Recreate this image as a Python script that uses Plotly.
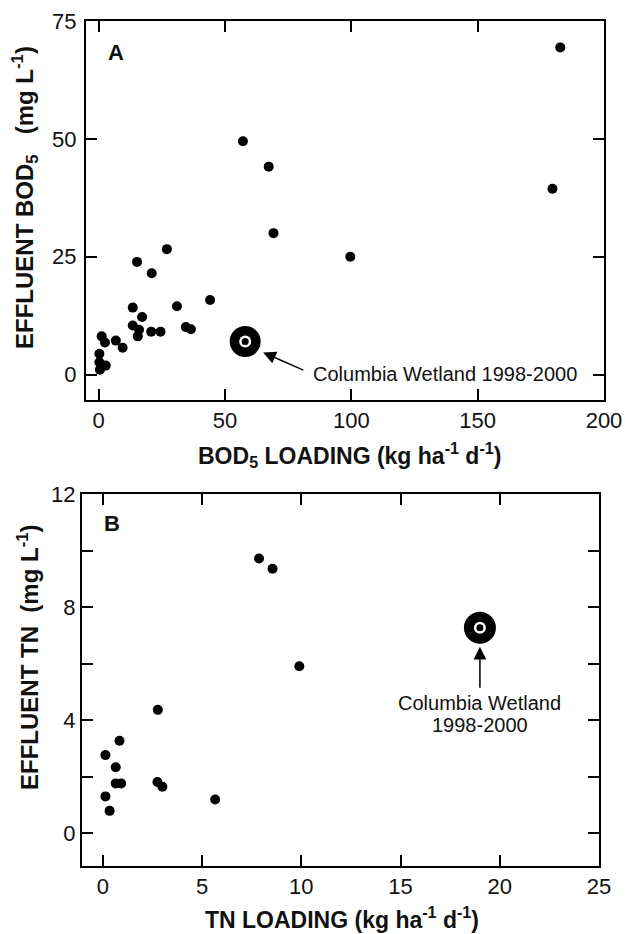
import plotly.graph_objects as go

# ---------------- data ----------------
bod_loading = [182.7, 179.6, 57.1, 67.3, 69.2, 99.6, 27.0, 15.2, 21.0, 44.1,
               31.0, 13.5, 17.2, 13.5, 16.0, 15.5, 20.8, 24.5, 34.5, 36.5,
               1.2, 2.5, 6.8, 9.5, 0.3, 0.3, 0.5, 2.8]
bod_effluent = [69.4, 39.4, 49.5, 44.1, 30.0, 25.0, 26.6, 23.9, 21.5, 15.8,
                14.5, 14.2, 12.2, 10.4, 9.5, 8.1, 9.1, 9.1, 10.1, 9.6,
                8.1, 6.8, 7.2, 5.7, 4.4, 2.6, 1.0, 1.9]
bod_columbia = [58.0]
bod_columbia_eff = [7.0]

tn_loading = [7.87, 8.55, 9.90, 2.77, 0.84, 0.13, 0.65, 0.65, 0.92, 2.75,
              3.0, 5.66, 0.13, 0.34]
tn_effluent = [9.72, 9.36, 5.91, 4.37, 3.28, 2.77, 2.34, 1.77, 1.77, 1.82,
               1.65, 1.20, 1.31, 0.80]
tn_columbia = [19.0]
tn_columbia_eff = [7.27]

a_xticks = [0, 50, 100, 150, 200]
a_yticks = [0, 25, 50, 75]
b_xticks = [0, 5, 10, 15, 20, 25]
b_yticks = [0, 2, 4, 6, 8, 10, 12]
b_yticktext = ["0", "", "4", "", "8", "", "12"]

W, H = 625, 934
FONT = "Liberation Sans, Arial, sans-serif"


def px(x):
    return x / W


def py(y):
    return 1 - y / H


fig = go.Figure()

# panel A
fig.add_trace(go.Scatter(x=bod_loading, y=bod_effluent, mode="markers",
                         marker=dict(color="black", size=10), xaxis="x", yaxis="y"))
for s, c in [(31, "black"), (12, "white"), (7, "black")]:
    fig.add_trace(go.Scatter(x=bod_columbia, y=bod_columbia_eff, mode="markers",
                             marker=dict(color=c, size=s), xaxis="x", yaxis="y"))
# panel B
fig.add_trace(go.Scatter(x=tn_loading, y=tn_effluent, mode="markers",
                         marker=dict(color="black", size=10), xaxis="x2", yaxis="y2"))
for s, c in [(32, "black"), (12, "white"), (7, "black")]:
    fig.add_trace(go.Scatter(x=tn_columbia, y=tn_columbia_eff, mode="markers",
                             marker=dict(color=c, size=s), xaxis="x2", yaxis="y2"))

axis_common = dict(ticks="inside", ticklen=11, tickwidth=2, tickcolor="black",
                   showline=True, linewidth=2, linecolor="black", mirror="allticks",
                   showgrid=False, zeroline=False, automargin=False,
                   tickfont=dict(family=FONT, size=22, color="#111"))

fig.update_layout(
    width=W, height=H, margin=dict(l=0, r=0, t=0, b=0, autoexpand=False),
    paper_bgcolor="white", plot_bgcolor="white", showlegend=False,
    xaxis=dict(domain=[px(86), px(604)], range=[-5, 200], tickvals=a_xticks,
               anchor="y", ticklabelstandoff=0, **axis_common),
    yaxis=dict(domain=[py(400), py(21)], range=[-5.4, 75], tickvals=a_yticks,
               anchor="x", ticklabelstandoff=3, **axis_common),
    xaxis2=dict(domain=[px(82), px(599)], range=[-1.05, 25], tickvals=b_xticks,
                anchor="y2", ticklabelstandoff=0, **axis_common),
    yaxis2=dict(domain=[py(866), py(494)], range=[-1.15, 12], tickvals=b_yticks,
                ticktext=b_yticktext, anchor="x2", ticklabelstandoff=0, **axis_common),
)

ann = []
# axis titles
ann.append(dict(text="<b>BOD<sub>5</sub> LOADING (kg ha<sup>-1</sup> d<sup>-1</sup>)</b>",
                x=px(349), y=py(455), xref="paper", yref="paper", showarrow=False,
                xanchor="center", yanchor="middle", font=dict(family=FONT, size=23, color="#111")))
ann.append(dict(text="<b>TN LOADING (kg ha<sup>-1</sup> d<sup>-1</sup>)</b>",
                x=px(342), y=py(918), xref="paper", yref="paper", showarrow=False,
                xanchor="center", yanchor="middle", font=dict(family=FONT, size=23, color="#111")))
ann.append(dict(text="<b>EFFLUENT BOD<sub>5</sub>&nbsp;&nbsp;&nbsp;(mg L<sup>-1</sup>)</b>",
                x=px(25), y=py(198), xref="paper", yref="paper", showarrow=False,
                textangle=-90, xanchor="center", yanchor="middle",
                font=dict(family=FONT, size=24, color="#111")))
ann.append(dict(text="<b>EFFLUENT TN&nbsp;&nbsp;(mg L<sup>-1</sup>)</b>",
                x=px(28), y=py(657), xref="paper", yref="paper", showarrow=False,
                textangle=-90, xanchor="center", yanchor="middle",
                font=dict(family=FONT, size=24, color="#111")))
# panel letters
ann.append(dict(text="<b>A</b>", x=px(116), y=py(53), xref="paper", yref="paper",
                xanchor="center", yanchor="middle",
                showarrow=False, font=dict(family=FONT, size=22, color="#111")))
ann.append(dict(text="<b>B</b>", x=px(112), y=py(523), xref="paper", yref="paper",
                xanchor="center", yanchor="middle",
                showarrow=False, font=dict(family=FONT, size=22, color="#111")))
# Columbia labels and arrows
ann.append(dict(text="Columbia Wetland 1998-2000", x=84, y=0.2, xref="x", yref="y",
                showarrow=False, xanchor="left", yanchor="middle",
                font=dict(family=FONT, size=20, color="#111")))
ann.append(dict(text="", x=65.1, y=4.7, ax=81.6, ay=0.8, xref="x", yref="y",
                axref="x", ayref="y", showarrow=True, arrowhead=2, arrowsize=1.7,
                arrowwidth=1.5, arrowcolor="black", standoff=0, startstandoff=0))
ann.append(dict(text="Columbia Wetland", x=19.0, y=4.6, xref="x2", yref="y2",
                showarrow=False, xanchor="center", yanchor="middle",
                font=dict(family=FONT, size=20, color="#111")))
ann.append(dict(text="1998-2000", x=19.0, y=3.83, xref="x2", yref="y2",
                showarrow=False, xanchor="center", yanchor="middle",
                font=dict(family=FONT, size=20, color="#111")))
ann.append(dict(text="", x=19.0, y=6.6, ax=19.0, ay=5.1, xref="x2", yref="y2",
                axref="x2", ayref="y2", showarrow=True, arrowhead=2, arrowsize=1.7,
                arrowwidth=1.5, arrowcolor="black", standoff=0, startstandoff=0))
fig.update_layout(annotations=ann)

fig.write_html("out.html", config={"displayModeBar": False},
               post_script="document.body.style.margin='0';")
